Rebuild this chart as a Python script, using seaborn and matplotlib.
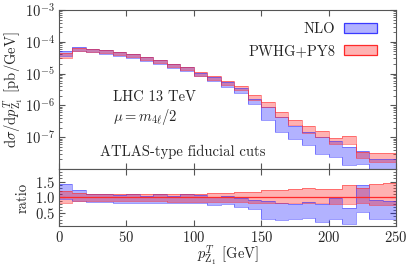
import numpy as np
import matplotlib
matplotlib.use('Agg')
import matplotlib.pyplot as plt
import seaborn as sns
from matplotlib.patches import Patch
from matplotlib.ticker import MultipleLocator, LogLocator, NullFormatter

# bins of p_T(Z1) [GeV]
bin_edges = np.arange(0, 260, 10)

# PWHG+PY8 central values [pb/GeV]
pwhg = [3.7e-5, 5.7e-5, 5.4e-5, 4.9e-5, 4.4e-5, 3.7e-5, 3.1e-5, 2.4e-5, 1.86e-5, 1.45e-5,
        1.0e-5, 7.5e-6, 5.0e-6, 3.5e-6, 1.78e-6, 1.03e-6, 5.0e-7, 2.8e-7, 1.7e-7, 1.26e-7,
        7.6e-8, 7.6e-8, 2.6e-8, 2.2e-8, 2.2e-8]

# bands relative to PWHG+PY8 central (ratio panel)
pwhg_lo = [0.82, 0.88, 0.88, 0.88, 0.88, 0.88, 0.88, 0.88, 0.87, 0.87, 0.86, 0.86, 0.85,
           0.85, 0.84, 0.84, 0.83, 0.83, 0.82, 0.82, 0.80, 0.80, 0.82, 0.76, 0.75]
pwhg_hi = [1.20, 1.13, 1.10, 1.10, 1.10, 1.10, 1.10, 1.10, 1.10, 1.10, 1.12, 1.13, 1.14,
           1.16, 1.18, 1.23, 1.25, 1.27, 1.30, 1.27, 1.28, 1.38, 1.30, 1.43, 1.47]
nlo_lo = [0.95, 0.88, 0.86, 0.86, 0.82, 0.84, 0.82, 0.83, 0.82, 0.83, 0.81, 0.76, 0.78,
          0.70, 0.64, 0.33, 0.30, 0.31, 0.34, 0.23, 0.31, 0.17, 0.54, 0.31, 0.31]
nlo_hi = [1.42, 1.22, 1.12, 1.10, 1.08, 1.10, 1.06, 1.10, 1.06, 1.10, 1.07, 1.02, 1.05,
          0.97, 0.92, 0.88, 0.83, 0.78, 0.86, 0.78, 0.98, 0.66, 1.38, 0.93, 0.90]

sns.set_style('ticks')
plt.rcParams['font.family'] = ['cmr10', 'DejaVu Serif']
plt.rcParams['mathtext.fontset'] = 'cm'
plt.rcParams['axes.formatter.use_mathtext'] = True
plt.rcParams['axes.unicode_minus'] = False
plt.rcParams['font.size'] = 10.5

blue_fill = (0.0, 0.0, 1.0, 0.3)
red_fill = (1.0, 0.0, 0.0, 0.3)
blue_line = '#3a3aff'
red_line = '#ff2a2a'
spine_col = '#555555'


def step(vals):
    v = np.asarray(vals, dtype=float)
    return np.append(v, v[-1])


central = np.asarray(pwhg)
bands = {
    'NLO': (central * np.asarray(nlo_lo), central * np.asarray(nlo_hi),
            np.asarray(nlo_lo), np.asarray(nlo_hi), blue_fill, blue_line),
    'PWHG+PY8': (central * np.asarray(pwhg_lo), central * np.asarray(pwhg_hi),
                 np.asarray(pwhg_lo), np.asarray(pwhg_hi), red_fill, red_line),
}

fig = plt.figure(figsize=(4.07, 2.69), dpi=100)
ax = fig.add_axes([0.145, 0.372, 0.828, 0.591])
axr = fig.add_axes([0.145, 0.16, 0.828, 0.212], sharex=ax)

for name, (lo, hi, rlo, rhi, fc, lc) in bands.items():
    ax.fill_between(bin_edges, step(lo), step(hi), step='post', color=fc, lw=0)
    axr.fill_between(bin_edges, step(rlo), step(rhi), step='post', color=fc, lw=0)
    for arr_main, arr_r in ((lo, rlo), (hi, rhi)):
        sns.lineplot(x=bin_edges, y=step(arr_main), ax=ax, color=lc, lw=0.6,
                     drawstyle='steps-post', alpha=0.6, legend=False)
        sns.lineplot(x=bin_edges, y=step(arr_r), ax=axr, color=lc, lw=0.6,
                     drawstyle='steps-post', alpha=0.6, legend=False)

axr.axhline(1.0, color=red_line, lw=0.9)

ax.set_yscale('log')
ax.set_ylim(1e-8, 1e-3)
ax.set_xlim(0, 250)
ax.set_yticks([1e-3, 1e-4, 1e-5, 1e-6, 1e-7])
ax.yaxis.set_minor_locator(LogLocator(base=10, subs=np.arange(2, 10), numticks=20))
ax.yaxis.set_minor_formatter(NullFormatter())
ax.tick_params(labelbottom=False)
ax.set_ylabel(r'$\mathrm{d}\sigma/\mathrm{d}p_{\mathrm{Z}_1}^{T}$ [pb/GeV]', labelpad=0)

axr.set_ylim(0.1, 1.9)
axr.yaxis.set_major_locator(MultipleLocator(0.5))
axr.yaxis.set_minor_locator(MultipleLocator(0.1))
axr.xaxis.set_major_locator(MultipleLocator(50))
axr.set_ylabel('ratio', labelpad=4)
axr.set_xlabel(r'$p_{\mathrm{Z}_1}^{T}$ [GeV]', labelpad=-1)

for a in (ax, axr):
    a.tick_params(which='both', direction='in', top=True, right=True, color=spine_col,
                  labelsize=10.5, pad=3)
    a.tick_params(which='major', length=4)
    a.tick_params(which='minor', length=2)
    for s in a.spines.values():
        s.set_color(spine_col)
        s.set_linewidth(0.8)

ax.text(0.16, 0.43, 'LHC 13 TeV', transform=ax.transAxes, fontsize=10.5)
ax.text(0.16, 0.30, r'$\mu = m_{4\ell}/2$', transform=ax.transAxes, fontsize=10.5)
ax.text(0.123, 0.08, 'ATLAS-type fiducial cuts', transform=ax.transAxes, fontsize=10.5)

handles = [Patch(facecolor=blue_fill, edgecolor=blue_line, lw=0.9, label='NLO'),
           Patch(facecolor=red_fill, edgecolor=red_line, lw=0.9, label='PWHG+PY8')]
ax.legend(handles=handles, loc='upper right', frameon=False, markerfirst=False,
          handlelength=2.3, handleheight=0.7, handletextpad=0.6, labelspacing=0.55,
          borderaxespad=0.3, fontsize=10.5, bbox_to_anchor=(0.975, 0.985))

fig.savefig('out.png', dpi=100)
